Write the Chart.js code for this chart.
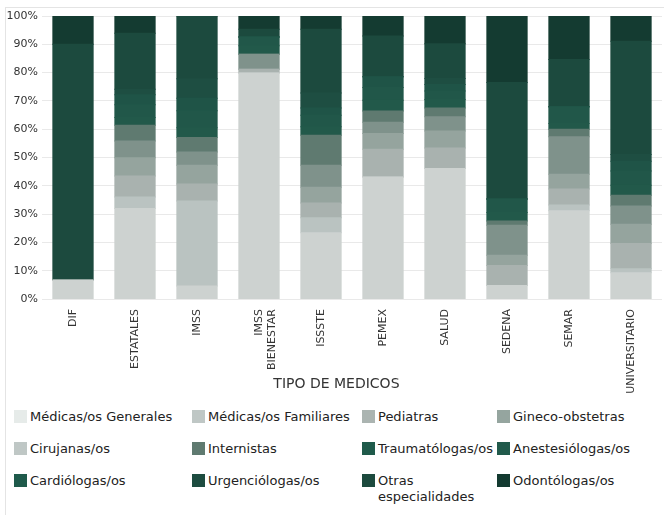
<!DOCTYPE html>
<html>
<head>
<meta charset="utf-8">
<script src="https://cdn.jsdelivr.net/npm/chart.js@4.4.1/dist/chart.umd.min.js"></script>
<style>
  body { margin: 0; background: #fff; font-family: "DejaVu Sans", sans-serif; }
  #wrap { position: relative; width: 664px; height: 515px; overflow: hidden; }
  #frame { position: absolute; left: 5px; top: 7px; width: 700px; height: 600px; border: 1px solid #e4e4e4; }
  #chartBox { position: absolute; left: 0; top: 0; width: 664px; height: 400px; }
  #legend { position: absolute; left: 14px; top: 409px; }
  .row { display: flex; height: 32px; }
  .item { display: flex; align-items: flex-start; font-size: 13px; line-height: 16px; color: #222; }
  .sw { width: 13px; height: 13px; margin-top: 1px; margin-right: 3px; flex: none; }
</style>
</head>
<body>
<div id="wrap">
  <div id="frame"></div>
  <div id="chartBox"><canvas id="chart" width="664" height="400"></canvas></div>
  <div id="legend"></div>
</div>
<script>
// Tipo de medicos - 100% stacked bars

var categories = ['DIF', 'ESTATALES', 'IMSS', ['IMSS', 'BIENESTAR'], 'ISSSTE', 'PEMEX', 'SALUD', 'SEDENA', 'SEMAR', 'UNIVERSITARIO'];

var seriesNames = [
  'Médicas/os Generales', 'Médicas/os Familiares', 'Pediatras', 'Gineco-obstetras',
  'Cirujanas/os', 'Internistas', 'Traumatólogas/os', 'Anestesiólogas/os',
  'Cardiólogas/os', 'Urgenciólogas/os', 'Otras especialidades', 'Odontólogas/os'
];

// percent per category, same order as categories
var generales     = [6.6, 32.0, 4.6, 79.9, 23.4, 43.1, 46.1, 4.8, 31.2, 9.3];
var familiares    = [0,   4.0, 30.0, 0,    5.3,  0,    0,    0,   2.0,  1.4];
var pediatras     = [0,   7.5,  6.0, 1.3,  5.2,  9.8,  7.3,  7.0, 5.7,  8.9];
var gineco        = [0,   6.4,  6.7, 0,    5.6,  5.6,  6.0,  3.7, 5.2,  6.8];
var cirujanos     = [0,   5.9,  4.6, 5.3,  7.8,  4.0,  5.0, 10.6, 13.2, 6.5];
var internistas   = [0,   5.6,  5.2, 0,   10.6,  3.9,  3.1,  1.5, 2.7,  3.8];
var traumatologos = [0,   2.7,  3.4, 3.0,  3.0,  3.8,  3.0,  3.0, 2.0,  3.5];
var anestesiologos= [0,   4.5,  6.0, 3.1,  4.0,  4.5,  3.0,  4.7, 5.9,  5.0];
var cardiologos   = [0,   3.6,  4.4, 0,    2.6,  3.8,  2.3,  0,   0,    3.5];
var urgenciologos = [0,   1.9,  6.9, 0,    5.3,  0,    2.1,  0,   0,    2.4];
var otras         = [83.4, 19.8, 22.2, 2.7, 22.5, 14.4, 12.3, 41.2, 16.7, 40.0];
var odontologos   = [10.0, 6.1,  0,   4.7,  4.7,  7.1,  9.8, 23.5, 15.4,  8.9];

var seriesValues = [generales, familiares, pediatras, gineco, cirujanos, internistas,
  traumatologos, anestesiologos, cardiologos, urgenciologos, otras, odontologos];

var barColors = ['#cdd2d0', '#bac3c1', '#a9b2af', '#95a49e', '#7f928b', '#5f7a70',
  '#22594a', '#215749', '#1f5447', '#1e4e42', '#1c4a3e', '#143b31'];
var legendColors = ['#e6ebe9', '#bfc7c5', '#abb4b1', '#95a59f', '#bfc7c5', '#5f7a70',
  '#1f5a4a', '#215a4b', '#1f5a4b', '#1d4c40', '#1c4a3e', '#133a30'];

var yTicks = [0, 10, 20, 30, 40, 50, 60, 70, 80, 90, 100];

var datasets = seriesNames.map(function(name, i) {
  return {
    label: name,
    data: seriesValues[i],
    backgroundColor: barColors[i],
    borderWidth: 0,
    inflateAmount: 0.5,
    categoryPercentage: 1,
    barPercentage: 0.65
  };
});

// trailing spaces pull the centred axis title a bit to the left, as in the source
var xTitle = 'TIPO DE MEDICOS' + '\u00a0\u00a0\u00a0\u00a0\u00a0\u00a0\u00a0';

new Chart(document.getElementById('chart'), {
  type: 'bar',
  data: { labels: categories, datasets: datasets },
  options: {
    responsive: false,
    animation: false,
    events: [],
    layout: { padding: { top: 16, right: 2, left: 0, bottom: 0 } },
    plugins: {
      legend: { display: false },
      tooltip: { enabled: false }
    },
    scales: {
      x: {
        stacked: true,
        grid: { display: false },
        border: { display: false },
        ticks: {
          color: '#333',
          font: { family: 'DejaVu Sans', size: 11 },
          maxRotation: 90,
          minRotation: 90,
          autoSkip: false,
          padding: 2
        },
        title: {
          display: true,
          text: xTitle,
          color: '#333',
          font: { family: 'DejaVu Sans', size: 14 },
          padding: { top: 0, bottom: 7 }
        },
        afterFit: function(s) { s.height = 101; }
      },
      y: {
        stacked: true,
        min: 0,
        max: 100,
        afterBuildTicks: function(s) {
          s.ticks = yTicks.map(function(v) { return { value: v }; });
        },
        grid: { color: '#e9e9e9', drawTicks: false },
        border: { display: false },
        ticks: {
          color: '#333',
          font: { family: 'DejaVu Sans', size: 11 },
          padding: 4,
          callback: function(v) { return v + '%'; }
        },
        afterFit: function(s) { s.width = 42; }
      }
    }
  }
});

// legend in four columns, built from the series names
var colWidths = [178, 170, 135, 160];
var legendEl = document.getElementById('legend');
for (var r = 0; r < 3; r++) {
  var row = document.createElement('div');
  row.className = 'row';
  for (var c = 0; c < 4; c++) {
    var i = r * 4 + c;
    var item = document.createElement('div');
    item.className = 'item';
    item.style.minWidth = colWidths[c] + 'px';
    if (seriesNames[i] === 'Otras especialidades') item.style.maxWidth = colWidths[c] + 'px';
    item.innerHTML = '<span class="sw" style="background:' + legendColors[i] + '"></span><span>' + seriesNames[i] + '</span>';
    row.appendChild(item);
  }
  legendEl.appendChild(row);
}
</script>
</body>
</html>
